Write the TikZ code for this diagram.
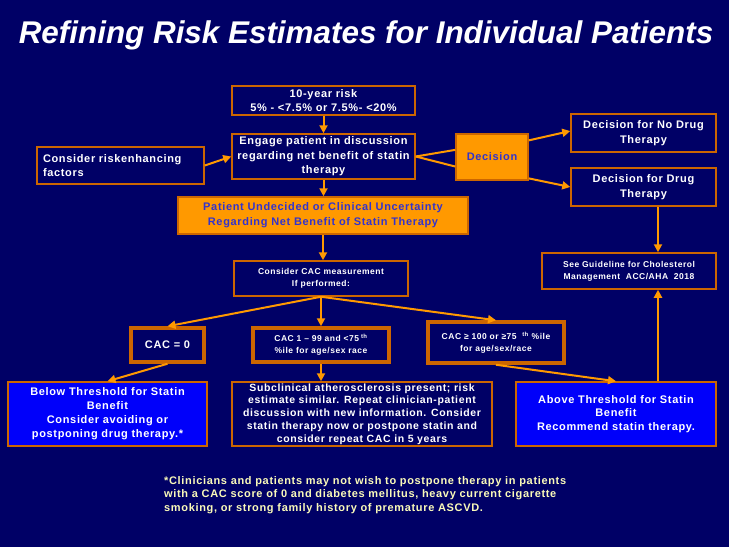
\documentclass[tikz,border=0pt]{standalone}
\usepackage{fontspec}
\setmainfont[LetterSpace=6]{Liberation Sans}
\newfontfamily\titlefont{Liberation Sans}
\usetikzlibrary{arrows.meta,calc}
\definecolor{bg}{RGB}{0,0,102}
\definecolor{orng}{RGB}{255,153,0}
\definecolor{brd}{RGB}{204,102,0}
\definecolor{bluebox}{RGB}{0,0,250}
\definecolor{btext}{RGB}{51,51,204}
\definecolor{foot}{RGB}{250,250,185}
\begin{document}
\begin{tikzpicture}[x=1pt,y=-1pt,
  box/.style={rectangle, inner sep=0pt, align=center, text=white,
    font=\bfseries\fontsize{11}{14.5}\selectfont},
  navy/.style={box, draw=brd, line width=1.5pt, fill=bg},
  small/.style={font=\bfseries\fontsize{8.5}{12}\selectfont},
  thick box/.style={navy, line width=3.5pt},
  obox/.style={box, draw=brd, line width=1.5pt, fill=orng, text=btext},
  bbox/.style={box, draw=brd, line width=1.5pt, fill=bluebox},
  arr/.style={draw=orng, line width=2pt, -{Triangle[length=8pt,width=8pt]}},
  ln/.style={draw=orng, line width=2pt}]
\fill[bg] (0,0) rectangle (729,547);
\useasboundingbox (0,0) rectangle (729,547);

\node[anchor=base, text=white, font=\titlefont\bfseries\itshape\fontsize{31.4}{36}\selectfont] (title) at (366,43)
  {Refining Risk Estimates for Individual Patients};

\node[navy, minimum width=183pt, minimum height=29pt] (risk) at (323.5,100.5)
  {10-year risk\\5\% - <7.5\% or 7.5\%- <20\%};
\node[navy, minimum width=183pt, minimum height=45pt] (engage) at (323.5,156.5)
  {Engage patient in discussion\\regarding net benefit of statin\\therapy};
\node[navy, minimum width=167pt, minimum height=37pt, align=left, text width=155pt] (enh) at (120.5,165.5)
  {Consider riskenhancing\\factors};
\node[obox, minimum width=290pt, minimum height=37pt, font=\bfseries\fontsize{11}{15}\selectfont] (undec) at (323,215.5)
  {Patient Undecided or Clinical Uncertainty\\Regarding Net Benefit of Statin Therapy};
\node[obox, minimum width=72pt, minimum height=46pt] (dec) at (492,157) {Decision};
\node[navy, minimum width=145pt, minimum height=38pt, font=\bfseries\fontsize{11}{15}\selectfont] (nodrug) at (643.5,133)
  {Decision for No Drug\\Therapy};
\node[navy, minimum width=145pt, minimum height=38pt, font=\bfseries\fontsize{11}{15}\selectfont] (drug) at (643.5,187)
  {Decision for Drug\\Therapy};
\node[navy, small, minimum width=174pt, minimum height=36pt] (guide) at (629,271)
  {See Guideline for Cholesterol\\Management\ \ ACC/AHA\ \ 2018};
\node[navy, small, minimum width=174pt, minimum height=35pt] (cacm) at (321,278.5)
  {Consider CAC measurement\\If performed:};
\node[thick box, minimum width=73pt, minimum height=34pt] (cac0) at (167.5,345) {CAC = 0};
\node[thick box, small, minimum width=136pt, minimum height=34pt] (cac1) at (321,345)
  {CAC 1 -- 99 and <75\textsuperscript{ th}\\\%ile for age/sex race};
\node[thick box, small, minimum width=136pt, minimum height=41pt] (cac100) at (496,342.5)
  {CAC ≥ 100 or ≥75\ \ \textsuperscript{th} \%ile\\for age/sex/race};
\node[bbox, minimum width=199pt, minimum height=64pt, font=\bfseries\fontsize{11}{14}\selectfont] (below) at (107.5,414)
  {Below Threshold for Statin\\Benefit\\Consider avoiding or\\postponing drug therapy.*};
\node[navy, minimum width=260pt, minimum height=64pt, font=\bfseries\fontsize{10.5}{12.8}\selectfont] (sub) at (362,414)
  {Subclinical atherosclerosis present; risk\\estimate similar. Repeat clinician-patient\\discussion with new information. Consider\\statin therapy now or postpone statin and\\consider repeat CAC in 5 years};
\node[bbox, minimum width=200pt, minimum height=64pt, font=\bfseries\fontsize{11}{13.5}\selectfont] (above) at (616,414)
  {Above Threshold for Statin\\Benefit\\Recommend statin therapy.};

\node[anchor=north west, align=left, inner sep=0pt, text=foot, font=\bfseries\fontsize{11}{13.5}\selectfont] (fn) at (164,476)
  {*Clinicians and patients may not wish to postpone therapy in patients\\with a CAC score of 0 and diabetes mellitus, heavy current cigarette\\smoking, or strong family history of premature ASCVD.};

\coordinate (vx) at (658,0);

\draw[arr] (risk.south) -- (engage.north);
\draw[arr] (enh.east) -- (engage.west);
\draw[ln] (engage.east) -- ($(dec.north west)!0.35!(dec.south west)$);
\draw[ln] (engage.east) -- ($(dec.north west)!0.70!(dec.south west)$);
\draw[arr] ($(dec.north east)!0.15!(dec.south east)$) -- ($(nodrug.north west)!0.45!(nodrug.south west)$);
\draw[arr] ($(dec.north east)!0.95!(dec.south east)$) -- (drug.west);
\draw[arr] (drug.south -| vx) -- (guide.north -| vx);
\draw[arr] (above.north -| vx) -- (guide.south -| vx);
\draw[arr] (engage.south) -- (engage.south |- undec.north);
\draw[arr] (undec.south) -- (undec.south |- cacm.north);
\draw[arr] (cacm.south) -- (cac0.north);
\draw[arr] (cacm.south) -- (cac1.north);
\draw[arr] (cacm.south) -- (cac100.north);
\draw[arr] (cac0.south) -- (below.north);
\draw[arr] (cac1.south) -- (cac1.south |- sub.north);
\draw[arr] (cac100.south) -- (above.north);
\end{tikzpicture}
\end{document}
